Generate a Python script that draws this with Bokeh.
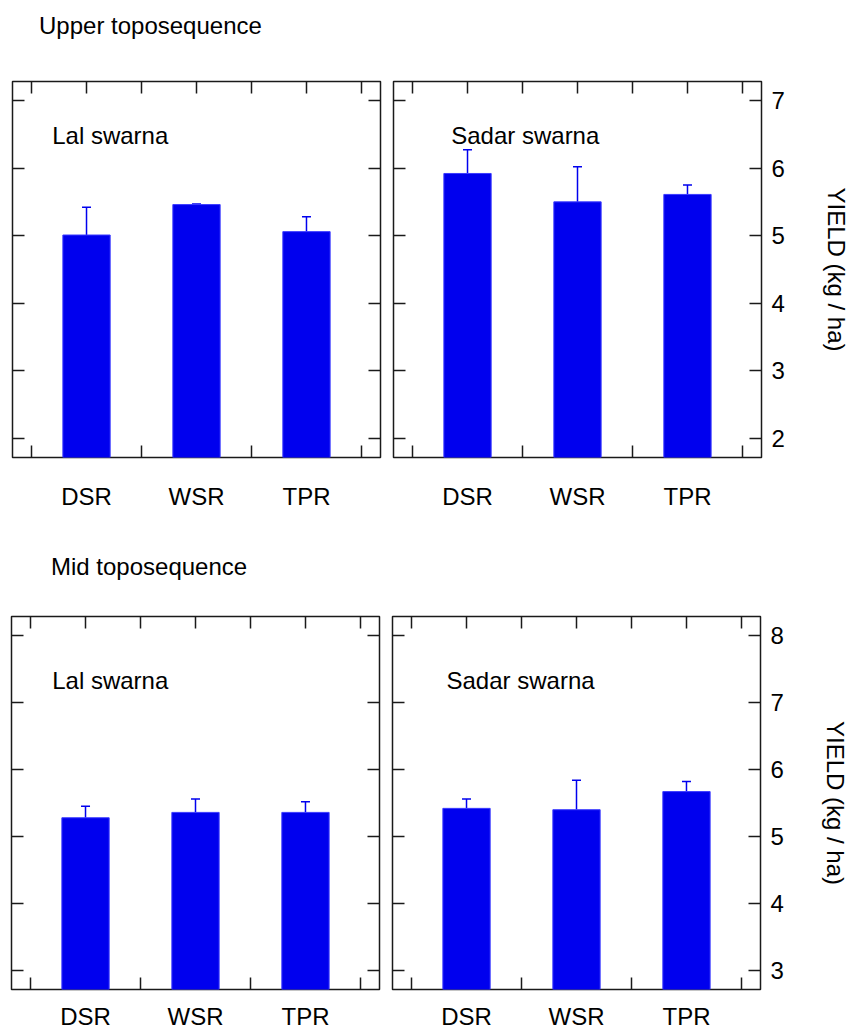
from bokeh.plotting import figure
from bokeh.models import Range1d, FixedTicker, LinearAxis, Label, Whisker, TeeHead, ColumnDataSource, Div
from bokeh.layouts import column, row
from bokeh.embed import file_html
from bokeh.resources import INLINE

# ---------------- data ----------------
treatments = ["DSR", "WSR", "TPR"]
positions = [1, 2, 3]

upper_lal = [5.01, 5.46, 5.06]
upper_lal_err = [0.41, 0.01, 0.22]
upper_sadar = [5.92, 5.50, 5.61]
upper_sadar_err = [0.35, 0.52, 0.14]

mid_lal = [5.28, 5.36, 5.36]
mid_lal_err = [0.17, 0.20, 0.16]
mid_sadar = [5.42, 5.40, 5.67]
mid_sadar_err = [0.14, 0.44, 0.15]

upper_yticks = [2, 3, 4, 5, 6, 7]
mid_yticks = [3, 4, 5, 6, 7, 8]
x_grid_ticks = [0.5, 1, 1.5, 2, 2.5, 3, 3.5]
x_minor_ticks = [0.5, 1.5, 2.5, 3.5]

FONT = "Liberation Sans"
LINE = "#1a1a1a"
BLUE = "#0000ee"
FS = "24px"


def hide_labels(ax):
    ax.major_label_text_font_size = "0px"
    ax.major_label_text_color = None
    ax.major_label_standoff = 0


def style_axis(ax):
    ax.axis_line_color = None
    ax.major_tick_in = 12
    ax.major_tick_out = 0
    ax.minor_tick_in = 12
    ax.minor_tick_out = 0
    ax.major_tick_line_color = LINE
    ax.minor_tick_line_color = LINE
    ax.major_tick_line_width = 1.5
    ax.minor_tick_line_width = 1.5
    ax.major_label_text_font = FONT
    ax.major_label_text_font_size = FS
    ax.major_label_text_color = "black"


def panel(values, errs, yr, yticks, name, name_xy, size, borders,
          right_labels, xlab_standoff):
    w, h = size
    bl, br, bt, bb = borders
    p = figure(width=w, height=h, x_range=Range1d(0.327, 3.673), y_range=Range1d(*yr),
               output_backend="svg", toolbar_location=None,
               x_axis_location=None, y_axis_location=None,
               min_border_left=bl, min_border_right=br,
               min_border_top=bt, min_border_bottom=bb)
    p.xgrid.visible = False
    p.ygrid.visible = False
    p.outline_line_color = LINE
    p.outline_line_width = 1.5
    p.background_fill_color = "white"
    p.border_fill_color = "white"

    bottom = LinearAxis(ticker=FixedTicker(ticks=positions, minor_ticks=x_minor_ticks),
                        major_label_overrides=dict(zip(positions, treatments)))
    style_axis(bottom)
    bottom.major_tick_in = 0
    bottom.major_label_standoff = xlab_standoff
    p.add_layout(bottom, "below")

    top = LinearAxis(ticker=FixedTicker(ticks=x_grid_ticks))
    style_axis(top)
    hide_labels(top)
    p.add_layout(top, "above")

    left = LinearAxis(ticker=FixedTicker(ticks=yticks))
    style_axis(left)
    hide_labels(left)
    p.add_layout(left, "left")

    right = LinearAxis(ticker=FixedTicker(ticks=yticks))
    style_axis(right)
    if right_labels:
        right.major_label_standoff = 10
        right.axis_label = "YIELD (kg / ha)"
        right.axis_label_text_font = FONT
        right.axis_label_text_font_size = FS
        right.axis_label_text_font_style = "normal"
        right.axis_label_text_color = "black"
        right.axis_label_standoff = 35
    else:
        hide_labels(right)
    p.add_layout(right, "right")

    p.vbar(x=positions, top=values, bottom=0, width=0.43,
           fill_color=BLUE, line_color="#3b3bff", line_width=1)

    upper = [v + e for v, e in zip(values, errs)]
    src = ColumnDataSource(dict(base=positions, lower=values, upper=upper))
    p.add_layout(Whisker(source=src, base="base", lower="lower", upper="upper",
                         lower_head=None,
                         upper_head=TeeHead(size=9, line_color=BLUE, line_width=1.5),
                         line_color=BLUE, line_width=1.5))

    p.add_layout(Label(x=name_xy[0], y=name_xy[1], text=name, text_font=FONT,
                       text_font_size=FS, text_color="black", text_align="left",
                       text_baseline="alphabetic"))
    return p


def heading(text, height, pad_top, pad_left):
    html = ('<div style="padding-top:%dpx;padding-left:%dpx;font-family:\'%s\';'
            'font-size:24px;line-height:24px;color:black;white-space:nowrap;margin:0">%s</div>'
            % (pad_top, pad_left, FONT, text))
    return Div(text=html, width=852, height=height, margin=(0, 0, 0, 0))


a = panel(upper_lal, upper_lal_err, (1.72, 7.28), upper_yticks, "Lal swarna", (0.688, 6.48),
          (386, 462), (12, 6, 31, 55), False, 25)
b = panel(upper_sadar, upper_sadar_err, (1.72, 7.28), upper_yticks, "Sadar swarna", (0.852, 6.48),
          (466, 462), (7, 91, 31, 55), True, 25)
c = panel(mid_lal, mid_lal_err, (2.72, 8.28), mid_yticks, "Lal swarna", (0.697, 7.33),
          (385, 440), (11, 6, 24, 41), False, 13)
d = panel(mid_sadar, mid_sadar_err, (2.72, 8.28), mid_yticks, "Sadar swarna", (0.818, 7.33),
          (467, 440), (7, 92, 24, 41), True, 13)

h1 = heading("Upper toposequence", 50, 14, 39)
h2 = heading("Mid toposequence", 80, 43, 51)

layout = column(h1, row(a, b, spacing=0), h2, row(c, d, spacing=0), spacing=0)

open("out.html", "w").write(file_html(layout, INLINE))
